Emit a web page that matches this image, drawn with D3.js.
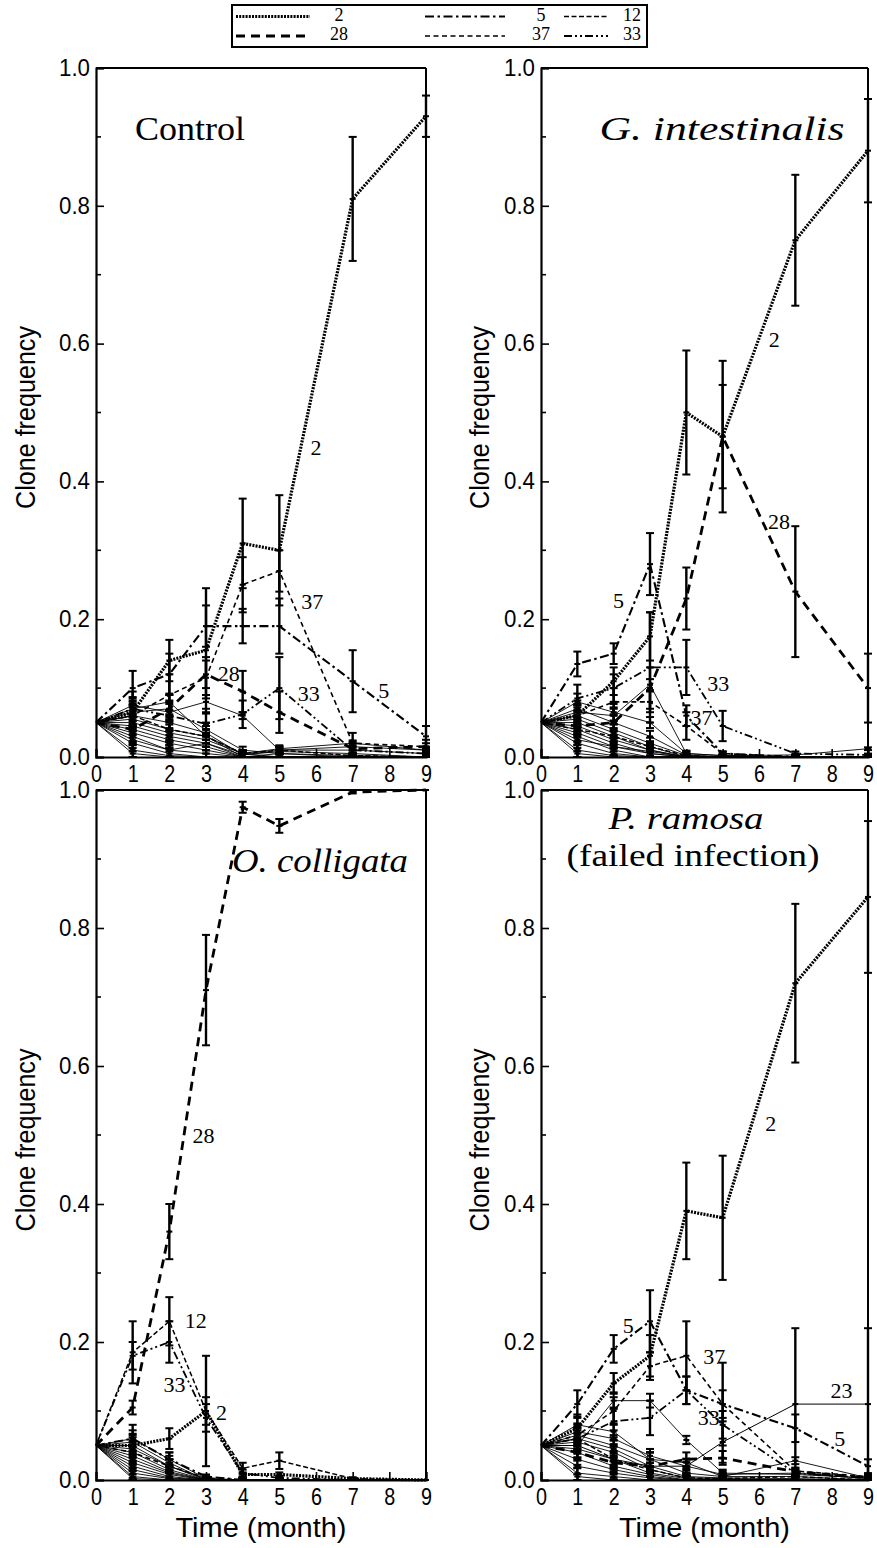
<!DOCTYPE html>
<html><head><meta charset="utf-8">
<script src="https://cdn.jsdelivr.net/npm/d3@7"></script>
<style>body{margin:0;background:#fff}</style>
</head><body>
<svg id="c" width="877" height="1548"></svg>
<script>
// ---------------- DATA ----------------
const months = [0, 1, 2, 3, 4, 5, 7, 9];
const xTickValues = [0, 1, 2, 3, 4, 5, 6, 7, 8, 9];
const yTickValues = [0, 0.2, 0.4, 0.6, 0.8, 1.0];
const yMinorTicks = [0.1, 0.3, 0.5, 0.7, 0.9];
const legendClones = ["2", "5", "12", "28", "37", "33"];

// Control
const ctrl2 = [0.05, 0.065, 0.14, 0.155, 0.31, 0.30, 0.81, 0.93];
const ctrl2Err = [0, 0.02, 0.03, 0.09, 0.065, 0.08, 0.09, 0.03];
const ctrl5 = [0.05, 0.10, 0.12, 0.19, 0.19, 0.19, 0.11, 0.03];
const ctrl5Err = [0, 0.025, 0.03, 0.03, 0.025, 0.04, 0.045, 0.015];
const ctrl12 = [0.05, 0.06, 0.04, 0.03, 0.005, 0.01, 0.002, 0.0];
const ctrl12Err = [0, 0.015, 0.015, 0.01, 0.005, 0.005, 0.003, 0.0];
const ctrl28 = [0.05, 0.04, 0.07, 0.12, 0.095, 0.065, 0.012, 0.015];
const ctrl28Err = [0, 0.02, 0.02, 0.02, 0.03, 0.03, 0.01, 0.005];
const ctrl37 = [0.05, 0.06, 0.09, 0.115, 0.25, 0.27, 0.02, 0.015];
const ctrl37Err = [0, 0.02, 0.03, 0.03, 0.04, 0.03, 0.015, 0.01];
const ctrl33 = [0.05, 0.07, 0.06, 0.048, 0.062, 0.10, 0.01, 0.005];
const ctrl33Err = [0, 0.025, 0.02, 0.015, 0.02, 0.045, 0.01, 0.005];
const ctrlOthers = [
  [0.05, 0.075, 0.065, 0.08, 0.06, 0.01, 0.01, 0.005],
  [0.05, 0.07, 0.08, 0.03, 0.005, 0.012, 0.02, 0.01],
  [0.05, 0.065, 0.07, 0.04, 0.01, 0.005, 0.002, 0.0],
  [0.05, 0.06, 0.05, 0.035, 0.003, 0.01, 0.015, 0.01],
  [0.05, 0.055, 0.04, 0.03, 0.0, 0.005, 0.0, 0.0],
  [0.05, 0.05, 0.035, 0.025, 0.005, 0.0, 0.0, 0.0],
  [0.05, 0.045, 0.03, 0.02, 0.0, 0.0, 0.0, 0.0],
  [0.05, 0.04, 0.025, 0.015, 0.0, 0.0, 0.0, 0.0],
  [0.05, 0.035, 0.02, 0.01, 0.0, 0.0, 0.0, 0.0],
  [0.05, 0.03, 0.01, 0.005, 0.0, 0.0, 0.0, 0.0],
  [0.05, 0.02, 0.005, 0.0, 0.0, 0.0, 0.0, 0.0],
  [0.05, 0.01, 0.002, 0.0, 0.0, 0.0, 0.0, 0.0],
  [0.05, 0.005, 0.0, 0.0, 0.0, 0.0, 0.0, 0.0],
  [0.05, 0.025, 0.01, 0.02, 0.003, 0.008, 0.005, 0.0]
];
const ctrlOthersErr = [0, 0.012, 0.012, 0.01, 0.005, 0.005, 0.004, 0.003];

// G. intestinalis
const gint2 = [0.05, 0.06, 0.11, 0.175, 0.50, 0.465, 0.75, 0.88];
const gint2Err = [0, 0.015, 0.02, 0.035, 0.09, 0.11, 0.095, 0.075];
const gint5 = [0.05, 0.135, 0.15, 0.28, 0.06, 0.005, 0.0, 0.0];
const gint5Err = [0, 0.018, 0.015, 0.045, 0.015, 0.003, 0, 0];
const gint12 = [0.05, 0.04, 0.03, 0.015, 0.002, 0.0, 0.0, 0.0];
const gint12Err = [0, 0.01, 0.01, 0.005, 0.002, 0, 0, 0];
const gint28 = [0.05, 0.045, 0.05, 0.10, 0.23, 0.465, 0.24, 0.10];
const gint28Err = [0, 0.01, 0.02, 0.03, 0.045, 0.075, 0.095, 0.05];
const gint37 = [0.05, 0.06, 0.08, 0.08, 0.045, 0.005, 0.0, 0.0];
const gint37Err = [0, 0.015, 0.02, 0.015, 0.02, 0.003, 0, 0];
const gint33 = [0.05, 0.085, 0.10, 0.13, 0.13, 0.045, 0.005, 0.003];
const gint33Err = [0, 0.02, 0.02, 0.08, 0.04, 0.022, 0.003, 0.002];
const gintOthers = [
  [0.05, 0.08, 0.065, 0.05, 0.005, 0.002, 0.003, 0.012],
  [0.05, 0.065, 0.06, 0.105, 0.005, 0.002, 0.0, 0.0],
  [0.05, 0.07, 0.05, 0.03, 0.003, 0.0, 0.0, 0.0],
  [0.05, 0.06, 0.04, 0.02, 0.002, 0.0, 0.0, 0.0],
  [0.05, 0.055, 0.035, 0.015, 0.0, 0.0, 0.0, 0.0],
  [0.05, 0.05, 0.03, 0.01, 0.0, 0.0, 0.0, 0.0],
  [0.05, 0.045, 0.025, 0.01, 0.0, 0.0, 0.0, 0.0],
  [0.05, 0.04, 0.02, 0.005, 0.0, 0.0, 0.0, 0.0],
  [0.05, 0.035, 0.015, 0.005, 0.0, 0.0, 0.0, 0.0],
  [0.05, 0.03, 0.01, 0.0, 0.0, 0.0, 0.0, 0.0],
  [0.05, 0.02, 0.005, 0.0, 0.0, 0.0, 0.0, 0.0],
  [0.05, 0.01, 0.002, 0.0, 0.0, 0.0, 0.0, 0.0],
  [0.05, 0.005, 0.0, 0.0, 0.0, 0.0, 0.0, 0.0],
  [0.05, 0.025, 0.015, 0.008, 0.0, 0.0, 0.0, 0.0]
];
const gintOthersErr = [0, 0.012, 0.012, 0.008, 0.004, 0.003, 0.002, 0.002];

// O. colligata
const ocol2 = [0.05, 0.05, 0.06, 0.10, 0.008, 0.008, 0.002, 0.0];
const ocol2Err = [0, 0.015, 0.015, 0.02, 0.003, 0.003, 0.001, 0];
const ocol5 = [0.05, 0.06, 0.03, 0.005, 0.0, 0.0, 0.0, 0.0];
const ocol5Err = [0, 0.02, 0.01, 0.003, 0, 0, 0, 0];
const ocol12 = [0.05, 0.185, 0.23, 0.10, 0.017, 0.028, 0.002, 0.0];
const ocol12Err = [0, 0.045, 0.035, 0.08, 0.008, 0.012, 0.002, 0];
const ocol28 = [0.05, 0.105, 0.36, 0.71, 0.975, 0.948, 0.997, 1.0];
const ocol28Err = [0, 0.01, 0.04, 0.08, 0.008, 0.01, 0.002, 0.0];
const ocol37 = [0.05, 0.04, 0.02, 0.003, 0.0, 0.0, 0.0, 0.0];
const ocol37Err = [0, 0.015, 0.01, 0.002, 0, 0, 0, 0];
const ocol33 = [0.05, 0.18, 0.20, 0.09, 0.01, 0.003, 0.0, 0.0];
const ocol33Err = [0, 0.02, 0.03, 0.02, 0.005, 0.003, 0, 0];
const ocolOthers = [
  [0.05, 0.06, 0.03, 0.002, 0.0, 0.0, 0.0, 0.0],
  [0.05, 0.055, 0.025, 0.0, 0.0, 0.0, 0.0, 0.0],
  [0.05, 0.05, 0.02, 0.0, 0.0, 0.0, 0.0, 0.0],
  [0.05, 0.045, 0.02, 0.002, 0.0, 0.0, 0.0, 0.0],
  [0.05, 0.04, 0.015, 0.0, 0.0, 0.0, 0.0, 0.0],
  [0.05, 0.035, 0.012, 0.0, 0.0, 0.0, 0.0, 0.0],
  [0.05, 0.03, 0.01, 0.0, 0.0, 0.0, 0.0, 0.0],
  [0.05, 0.025, 0.008, 0.0, 0.0, 0.0, 0.0, 0.0],
  [0.05, 0.02, 0.005, 0.0, 0.0, 0.0, 0.0, 0.0],
  [0.05, 0.015, 0.003, 0.0, 0.0, 0.0, 0.0, 0.0],
  [0.05, 0.01, 0.002, 0.0, 0.0, 0.0, 0.0, 0.0],
  [0.05, 0.005, 0.0, 0.0, 0.0, 0.0, 0.0, 0.0],
  [0.05, 0.002, 0.0, 0.0, 0.0, 0.0, 0.0, 0.0]
];
const ocolOthersErr = [0, 0.012, 0.01, 0.003, 0.002, 0.002, 0.0, 0.0];

// P. ramosa (failed infection)
const pram2 = [0.05, 0.075, 0.14, 0.18, 0.39, 0.38, 0.72, 0.845];
const pram2Err = [0, 0.02, 0.015, 0.03, 0.07, 0.09, 0.115, 0.11];
const pram5 = [0.05, 0.11, 0.19, 0.23, 0.13, 0.11, 0.075, 0.02];
const pram5Err = [0, 0.02, 0.02, 0.045, 0.02, 0.02, 0.02, 0.01];
const pram12 = [0.05, 0.06, 0.03, 0.015, 0.003, 0.002, 0.005, 0.0];
const pram12Err = [0, 0.015, 0.01, 0.01, 0.003, 0.002, 0.003, 0];
const pram28 = [0.05, 0.04, 0.025, 0.02, 0.03, 0.032, 0.012, 0.003];
const pram28Err = [0, 0.01, 0.01, 0.01, 0.01, 0.01, 0.005, 0.002];
const pram37 = [0.05, 0.065, 0.10, 0.165, 0.18, 0.11, 0.013, 0.005];
const pram37Err = [0, 0.015, 0.02, 0.02, 0.05, 0.06, 0.005, 0.003];
const pram33 = [0.05, 0.06, 0.085, 0.09, 0.13, 0.08, 0.01, 0.003];
const pram33Err = [0, 0.015, 0.02, 0.025, 0.02, 0.02, 0.005, 0.002];
const pram23 = [0.05, 0.05, 0.03, 0.02, 0.02, 0.055, 0.11, 0.11];
const pram23Err = [0, 0.01, 0.02, 0.02, 0.01, 0.03, 0.11, 0.11];
const pramOthers = [
  [0.05, 0.08, 0.07, 0.03, 0.025, 0.005, 0.028, 0.003],
  [0.05, 0.05, 0.115, 0.115, 0.058, 0.01, 0.008, 0.003],
  [0.05, 0.07, 0.06, 0.035, 0.02, 0.008, 0.01, 0.002],
  [0.05, 0.065, 0.05, 0.03, 0.01, 0.005, 0.005, 0.0],
  [0.05, 0.06, 0.045, 0.02, 0.005, 0.003, 0.002, 0.0],
  [0.05, 0.055, 0.04, 0.015, 0.003, 0.002, 0.0, 0.0],
  [0.05, 0.045, 0.03, 0.01, 0.002, 0.0, 0.0, 0.0],
  [0.05, 0.04, 0.02, 0.008, 0.0, 0.0, 0.0, 0.0],
  [0.05, 0.03, 0.015, 0.005, 0.0, 0.0, 0.0, 0.0],
  [0.05, 0.02, 0.01, 0.003, 0.0, 0.0, 0.0, 0.0],
  [0.05, 0.01, 0.005, 0.0, 0.0, 0.0, 0.0, 0.0],
  [0.05, 0.005, 0.0, 0.0, 0.0, 0.0, 0.0, 0.0]
];
const pramOthersErr = [0, 0.012, 0.012, 0.01, 0.006, 0.005, 0.005, 0.003];

// ---------------- STYLE / LAYOUT ----------------
const lineStyles = {
  "2":  {dash: "2,1.2", w: 3.2},
  "5":  {dash: "9,3.5,2.5,3.5", w: 2.1},
  "12": {dash: "5,2.5", w: 1.5},
  "28": {dash: "9,6", w: 2.8},
  "37": {dash: "5,3.5", w: 1.6},
  "33": {dash: "8,3,2,3,2,3", w: 1.8},
  "23": {dash: null, w: 1.0}
};
const SANS = "'Liberation Sans Narrow','Arial Narrow','Liberation Sans',Arial,sans-serif";
const SERIF = "'Liberation Serif','Times New Roman',serif";

const panels = [
  {x0: 96, x1: 426, y0: 68, y1: 757, ylabX: 28, xlab: false,
   series: [["28", ctrl28, ctrl28Err], ["12", ctrl12, ctrl12Err], ["33", ctrl33, ctrl33Err],
            ["37", ctrl37, ctrl37Err], ["5", ctrl5, ctrl5Err], ["2", ctrl2, ctrl2Err]],
   others: ctrlOthers, othersErr: ctrlOthersErr,
   titles: [{t: "Control", it: false, x: 190, y: 140, len: 110, fs: 34}],
   labels: [["2", 6.0, 0.445], ["37", 5.9, 0.222], ["28", 3.62, 0.117], ["33", 5.8, 0.088], ["5", 7.85, 0.093]]},
  {x0: 541, x1: 868, y0: 68, y1: 757, ylabX: 482, xlab: false,
   series: [["12", gint12, gint12Err], ["37", gint37, gint37Err], ["33", gint33, gint33Err],
            ["5", gint5, gint5Err], ["28", gint28, gint28Err], ["2", gint2, gint2Err]],
   others: gintOthers, othersErr: gintOthersErr,
   titles: [{t: "G. intestinalis", it: true, x: 722, y: 140, len: 245, fs: 34}],
   labels: [["2", 6.42, 0.603], ["28", 6.55, 0.338], ["5", 2.13, 0.224], ["33", 4.88, 0.103], ["37", 4.42, 0.054]]},
  {x0: 96, x1: 426, y0: 790, y1: 1480, ylabX: 28, xlab: true,
   series: [["5", ocol5, ocol5Err], ["37", ocol37, ocol37Err], ["2", ocol2, ocol2Err],
            ["33", ocol33, ocol33Err], ["12", ocol12, ocol12Err], ["28", ocol28, ocol28Err]],
   others: ocolOthers, othersErr: ocolOthersErr,
   titles: [{t: "O. colligata", it: true, x: 320, y: 872, len: 176, fs: 34}],
   labels: [["28", 2.93, 0.496], ["12", 2.72, 0.228], ["33", 2.14, 0.135], ["2", 3.42, 0.094]]},
  {x0: 541, x1: 868, y0: 790, y1: 1480, ylabX: 482, xlab: true,
   series: [["12", pram12, pram12Err], ["28", pram28, pram28Err], ["23", pram23, pram23Err],
            ["33", pram33, pram33Err], ["37", pram37, pram37Err], ["5", pram5, pram5Err], ["2", pram2, pram2Err]],
   others: pramOthers, othersErr: pramOthersErr,
   titles: [{t: "P. ramosa", it: true, x: 686, y: 829, len: 155, fs: 31},
            {t: "(failed infection)", it: false, x: 693, y: 866, len: 253, fs: 31}],
   labels: [["2", 6.32, 0.513], ["5", 2.4, 0.22], ["37", 4.77, 0.176], ["33", 4.62, 0.087],
            ["23", 8.27, 0.126], ["5", 8.22, 0.057]]}
];

// ---------------- DRAW ----------------
const svg = d3.select("#c");
svg.append("rect").attr("width", 877).attr("height", 1548).attr("fill", "#fff");

panels.forEach(p => {
  const x = d3.scaleLinear().domain([0, 9]).range([p.x0, p.x1]);
  const y = d3.scaleLinear().domain([0, 1]).range([p.y1, p.y0]);
  const g = svg.append("g");
  const line = d3.line().x((d, i) => x(months[i])).y(d => y(d));

  // other clones (thin solid)
  p.others.forEach(vals => {
    g.append("path").attr("d", line(vals)).attr("fill", "none")
      .attr("stroke", "#000").attr("stroke-width", 0.9);
  });
  // named clones
  p.series.forEach(([id, vals]) => {
    const st = lineStyles[id];
    g.append("path").attr("d", line(vals)).attr("fill", "none")
      .attr("stroke", "#000").attr("stroke-width", st.w)
      .attr("stroke-dasharray", st.dash);
  });

  // error bars
  const drawErr = (vals, errs, w) => {
    vals.forEach((v, i) => {
      const e = errs[i];
      if (i === 0) return;
      const cx = x(months[i]);
      const lo = Math.max(0, v - e), hi = Math.min(1, v + e);
      if (e > 0) {
        g.append("line").attr("x1", cx).attr("x2", cx).attr("y1", y(lo)).attr("y2", y(hi))
          .attr("stroke", "#000").attr("stroke-width", w);
        [lo, hi].forEach(b => g.append("line").attr("x1", cx - 4).attr("x2", cx + 4)
          .attr("y1", y(b)).attr("y2", y(b)).attr("stroke", "#000").attr("stroke-width", 2));
      }
      g.append("line").attr("x1", cx - 3).attr("x2", cx + 3).attr("y1", y(v)).attr("y2", y(v))
        .attr("stroke", "#000").attr("stroke-width", 2);
    });
  };
  p.others.forEach(vals => drawErr(vals, p.othersErr, 2));
  p.series.forEach(([id, vals, errs]) => drawErr(vals, errs, 2.4));

  // frame
  g.append("line").attr("x1", p.x0).attr("x2", p.x1).attr("y1", p.y0).attr("y2", p.y0)
    .attr("stroke", "#000").attr("stroke-width", 2);
  g.append("line").attr("x1", p.x1).attr("x2", p.x1).attr("y1", p.y0).attr("y2", p.y1)
    .attr("stroke", "#000").attr("stroke-width", 2);

  // axes
  const ay = g.append("g").attr("transform", `translate(${p.x0},0)`)
    .call(d3.axisLeft(y).tickValues(yTickValues).tickFormat(d3.format(".1f")).tickSize(-8).tickPadding(6));
  const ax = g.append("g").attr("transform", `translate(0,${p.y1})`)
    .call(d3.axisBottom(x).tickValues(xTickValues).tickFormat(d3.format("d")).tickSize(-8).tickPadding(9));
  [ay, ax].forEach(a => {
    a.select(".domain").attr("stroke-width", 2.2);
    a.selectAll(".tick line").attr("stroke-width", 1.6);
    a.selectAll("text").attr("font-family", SANS).attr("font-size", 23).attr("fill", "#000");
  });
  ay.selectAll("text").attr("textLength", 31).attr("lengthAdjust", "spacingAndGlyphs");
  ax.selectAll("text").attr("textLength", 11).attr("lengthAdjust", "spacingAndGlyphs");
  yMinorTicks.forEach(t => g.append("line").attr("x1", p.x0).attr("x2", p.x0 + 5)
    .attr("y1", y(t)).attr("y2", y(t)).attr("stroke", "#000").attr("stroke-width", 1.6));

  // axis titles
  g.append("text").attr("transform", `translate(${p.ylabX},${(p.y0 + p.y1) / 2 + 5}) rotate(-90)`)
    .attr("text-anchor", "middle").attr("dominant-baseline", "middle")
    .attr("font-family", SANS).attr("font-size", 27)
    .attr("textLength", 183).attr("lengthAdjust", "spacingAndGlyphs").text("Clone frequency");
  if (p.xlab) {
    g.append("text").attr("x", (p.x0 + p.x1) / 2).attr("y", p.y1 + 57)
      .attr("text-anchor", "middle").attr("font-family", SANS).attr("font-size", 27)
      .attr("textLength", 171).attr("lengthAdjust", "spacingAndGlyphs").text("Time (month)");
  }

  // panel titles
  p.titles.forEach(t => {
    g.append("text").attr("x", t.x - t.len / 2).attr("y", t.y)
      .attr("font-family", SERIF).attr("font-size", t.fs).attr("font-style", t.it ? "italic" : "normal")
      .attr("textLength", t.len).attr("lengthAdjust", "spacingAndGlyphs").text(t.t);
  });

  // in-plot clone labels
  p.labels.forEach(([t, lx, ly]) => {
    g.append("text").attr("x", x(lx)).attr("y", y(ly)).attr("text-anchor", "middle")
      .attr("dominant-baseline", "middle").attr("font-family", SERIF).attr("font-size", 22)
      .text(t);
  });
});

// ---------------- LEGEND ----------------
const leg = svg.append("g");
leg.append("rect").attr("x", 232).attr("y", 5).attr("width", 415).attr("height", 42)
  .attr("fill", "#fff").attr("stroke", "#000").attr("stroke-width", 2);
const legCols = [{l0: 236, l1: 310, tx: 339}, {l0: 425, l1: 505, tx: 541}, {l0: 564, l1: 608, tx: 632}];
const legRows = [16.5, 36];
legendClones.forEach((id, i) => {
  const c = legCols[i % 3], r = legRows[Math.floor(i / 3)];
  const st = lineStyles[id];
  leg.append("line").attr("x1", c.l0).attr("x2", c.l1).attr("y1", r).attr("y2", r)
    .attr("stroke", "#000").attr("stroke-width", st.w).attr("stroke-dasharray", st.dash);
  leg.append("text").attr("x", c.tx).attr("y", r).attr("text-anchor", "middle")
    .attr("dominant-baseline", "middle").attr("font-family", SERIF).attr("font-size", 18).text(id);
});
</script>
</body></html>
